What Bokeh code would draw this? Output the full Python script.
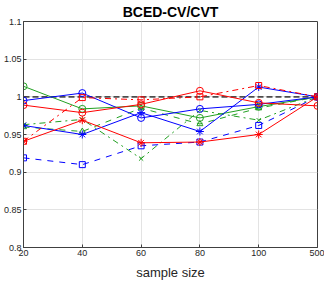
from bokeh.plotting import figure
from bokeh.models import FixedTicker, Range1d
from bokeh.embed import file_html
from bokeh.resources import INLINE

sizes = ["20", "40", "60", "80", "100", "500"]
y_ticks = [0.8, 0.85, 0.9, 0.95, 1.0, 1.05, 1.1]
y_labels = ["0.8", "0.85", "0.9", "0.95", "1", "1.05", "1.1"]

ref = [1.0, 1.0, 1.0, 1.0, 1.0, 1.0]
red_o = [0.989, 0.979, 0.990, 1.008, 0.992, 0.988]
red_star = [0.941, 0.969, 0.939, 0.940, 0.950, 1.000]
red_dd = [0.941, 0.999, 0.996, 1.000, 1.015, 1.000]
blue_o = [0.995, 1.005, 0.972, 0.984, 0.990, 1.000]
blue_star = [0.962, 0.950, 0.979, 0.954, 1.013, 1.000]
blue_sq = [0.919, 0.910, 0.935, 0.940, 0.962, 1.000]
green_o = [1.014, 0.984, 0.988, 0.972, 0.987, 1.000]
green_tri = [0.960, 0.954, 0.985, 0.964, 0.985, 1.000]
green_x = [0.963, 0.970, 0.918, 0.982, 0.969, 1.000]

RED = "#ff0000"
BLUE = "#0000ff"
GREEN = "#22a022"

xs = list(range(len(sizes)))

p = figure(width=324, height=282, output_backend="svg", toolbar_location=None,
           x_range=Range1d(0, 5), y_range=Range1d(0.8, 1.1),
           title="BCED-CV/CVT", min_border_right=7, min_border_top=3,
           min_border_bottom=2, min_border_left=2)
p.title.align = "center"
p.title.text_font = "Liberation Sans"
p.title.text_font_size = "14px"
p.title.text_font_style = "bold"
p.title.text_color = "#000000"
p.title.standoff = 3

p.outline_line_color = "#404040"
p.outline_line_width = 1
p.background_fill_color = "white"
p.border_fill_color = "white"

for ax in (p.xaxis, p.yaxis):
    ax.major_label_text_font = "Liberation Sans"
    ax.major_label_text_font_size = "9px"
    ax.major_label_text_color = "#262626"
    ax.axis_line_color = "#404040"
    ax.major_tick_line_color = "#404040"
    ax.major_tick_in = 3
    ax.major_tick_out = 0
    ax.minor_tick_line_color = None
    ax.major_label_standoff = 2

p.xaxis.ticker = FixedTicker(ticks=xs)
p.xaxis.major_label_overrides = {i: s for i, s in enumerate(sizes)}
p.yaxis.ticker = FixedTicker(ticks=y_ticks)
p.yaxis.major_label_overrides = {t: l for t, l in zip(y_ticks, y_labels)}
p.xaxis.axis_label = "sample size"
p.xaxis.axis_label_text_font = "Liberation Sans"
p.xaxis.axis_label_text_font_size = "13px"
p.xaxis.axis_label_text_font_style = "normal"
p.xaxis.axis_label_text_color = "#262626"
p.xaxis.axis_label_standoff = 6

p.grid.grid_line_color = "#e3e3e3"
p.grid.grid_line_width = 1

# reference line
p.line(xs, ref, line_color="#4d4d4d", line_width=1.6, line_dash="6 3")

def series(y, color, dash, marker, size=7):
    p.line(xs, y, line_color=color, line_width=1, line_dash=dash)
    p.scatter(xs, y, marker=marker, size=size, line_color=color,
              fill_color=None, line_width=1)

series(green_x, GREEN, "dashdot", "x", 6)
series(green_tri, GREEN, "dashed", "triangle", 6)
series(green_o, GREEN, "solid", "circle", 7)
series(blue_sq, BLUE, "dashed", "square", 6)
series(blue_star, BLUE, "solid", "asterisk", 8)
series(blue_o, BLUE, "solid", "circle", 7)
series(red_dd, RED, "dashdot", "square", 6)
series(red_star, RED, "solid", "asterisk", 8)
series(red_o, RED, "solid", "circle", 7)

open("out.html", "w").write(file_html(p, INLINE))
